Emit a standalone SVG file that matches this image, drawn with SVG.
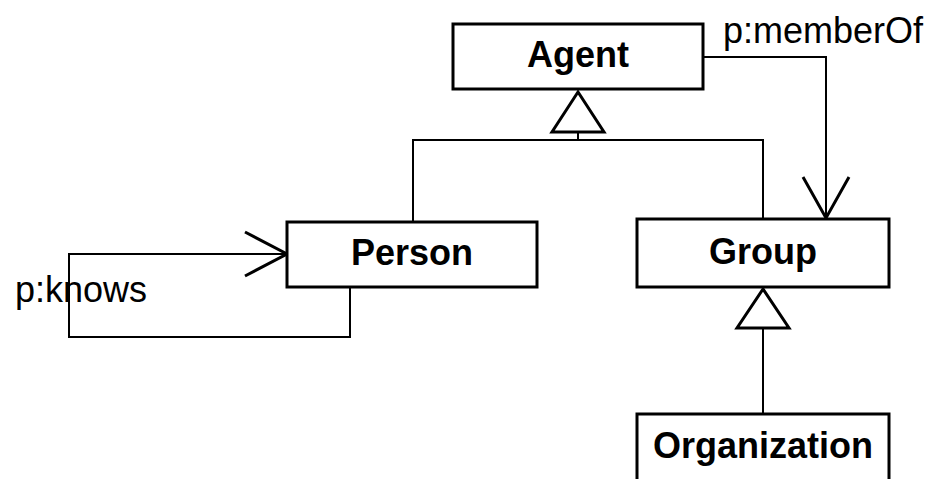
<svg xmlns="http://www.w3.org/2000/svg" width="938" height="479" viewBox="0 0 938 479">
  <style>
    .box { fill: #ffffff; stroke: #000000; stroke-width: 3; }
    .name { font-family: "Liberation Sans", Arial, sans-serif; font-weight: bold; font-size: 36px; text-anchor: middle; fill: #000000; }
    .label { font-family: "Liberation Sans", Arial, sans-serif; font-size: 36px; fill: #000000; }
    .line { fill: none; stroke: #000000; stroke-width: 2; }
    .tri { fill: #ffffff; stroke: #000000; stroke-width: 3; stroke-linejoin: miter; }
    .open { fill: none; stroke: #000000; stroke-width: 3; }
  </style>

  <g id="connectors">
    <!-- generalisation: Person, Group -> Agent -->
    <path class="line" d="M413,222 V140 H763 V219"/>
    <path class="line" d="M578,132 V140"/>
    <polygon class="tri" points="578,92 552,132 604,132"/>
    <!-- generalisation: Organization -> Group -->
    <path class="line" d="M763,328 V414"/>
    <polygon class="tri" points="763,289 737,328 789,328"/>
    <!-- p:memberOf association -->
    <path class="line" d="M703,57 H826 V218"/>
    <path class="open" d="M803,177 L826,218 L849,177"/>
    <text class="label" x="723" y="43">p:memberOf</text>
    <!-- p:knows self-association -->
    <path class="line" d="M350,287 V337 H69 V254 H287"/>
    <path class="open" d="M245,232 L287,254 L245,276"/>
    <text class="label" x="15" y="302">p:knows</text>
  </g>

  <g id="agent">
    <rect class="box" x="453" y="24" width="250" height="65"/>
    <text class="name" x="578" y="67">Agent</text>
  </g>
  <g id="person">
    <rect class="box" x="287" y="222" width="250" height="65"/>
    <text class="name" x="412" y="265">Person</text>
  </g>
  <g id="group">
    <rect class="box" x="637" y="219" width="252" height="68"/>
    <text class="name" x="763" y="264">Group</text>
  </g>
  <g id="organization">
    <rect class="box" x="637" y="414" width="252" height="70"/>
    <text class="name" x="763" y="458">Organization</text>
  </g>
</svg>
